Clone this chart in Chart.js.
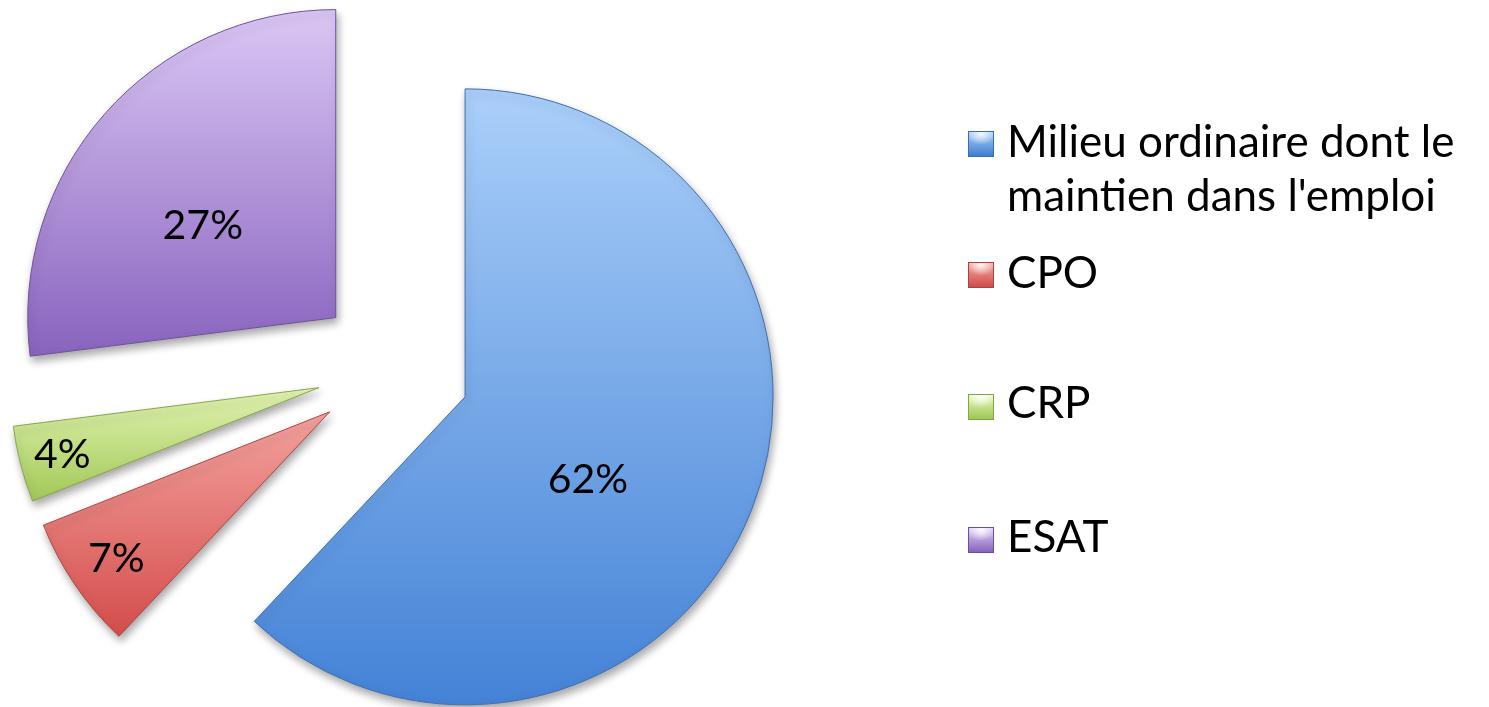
<!DOCTYPE html>
<html>
<head>
<meta charset="utf-8">
<script src="https://cdn.jsdelivr.net/npm/chart.js@4/dist/chart.umd.min.js"></script>
<style>
html,body{margin:0;padding:0;background:#fff;}
#wrap{position:relative;width:1489px;height:707px;overflow:hidden;}
#chartBox{position:absolute;left:0;top:0;width:1489px;height:707px;}
.lg{position:absolute;font-family:Lato,"Open Sans",sans-serif;font-size:44px;line-height:54px;color:#000;white-space:nowrap;}
.mk{position:absolute;width:26px;height:26px;box-sizing:border-box;}
</style>
</head>
<body>
<div id="wrap">
  <div id="chartBox"><canvas id="c"></canvas></div>
  <div id="legend"></div>
</div>
<script>
// ---- data ----
const categories = ["Milieu ordinaire dont le maintien dans l'emploi", "CPO", "CRP", "ESAT"];
const legendLines = [["Milieu ordinaire dont le", "maintien dans l'emploi"], ["CPO"], ["CRP"], ["ESAT"]];
const values = [62, 7, 4, 27];

// ---- styles ----
const topColors = ['#abd0fa', '#f3a29e', '#e2f4b2', '#dbc7f5'];
const bottomColors = ['#4482d6', '#d44d4b', '#a2c858', '#8963be'];
const borderColors = ['#3d6fb3', '#b24443', '#86a848', '#6f51a0'];
const markerBase = [['#a8cff9', '#3f7dd0', '#3a6db0'], ['#f4a6a2', '#d04b49', '#a94241'], ['#eaf8c2', '#9fc654', '#84a545'], ['#e0d0f6', '#8763bc', '#6b4f9c']];
const explodeDist = 77;
const pieRadius = 308;
const labelFrac = [0.478, 0.838, 0.86, 0.527];
const labelAngleShift = [11.8, 0, 0, -6.4];
const labelFontSize = 41;
const legendFontSize = 44;
const legendLineHeight = 54;
const legendBaselines = [[157, 211], [288], [418], [552]];
const markerTops = [131, 262, 394, 527];

const explodePlugin = {
  id: 'explode',
  afterDatasetUpdate(chart, args) {
    const meta = chart.getDatasetMeta(args.index);
    meta.data.forEach(arc => {
      const mid = (arc.startAngle + arc.endAngle) / 2;
      arc.x += Math.cos(mid) * explodeDist;
      arc.y += Math.sin(mid) * explodeDist;
    });
  },
  beforeDatasetsDraw(chart) {
    const ctx = chart.ctx;
    const meta = chart.getDatasetMeta(0);
    meta.data.forEach((arc, i) => {
      let minY = arc.y, maxY = arc.y;
      for (let k = 0; k <= 80; k++) {
        const a = arc.startAngle + (arc.endAngle - arc.startAngle) * k / 80;
        const yy = arc.y + Math.sin(a) * arc.outerRadius;
        minY = Math.min(minY, yy); maxY = Math.max(maxY, yy);
      }
      const g = ctx.createLinearGradient(0, minY, 0, maxY);
      g.addColorStop(0, topColors[i]);
      g.addColorStop(1, bottomColors[i]);
      if (Object.isFrozen(arc.options)) {
        arc.options = Object.assign({}, arc.options, {backgroundColor: g});
      } else {
        arc.options.backgroundColor = g;
      }
    });
    ctx.save();
    ctx.shadowColor = 'rgba(0,0,0,0.35)';
    ctx.shadowBlur = 9;
    ctx.shadowOffsetX = 2;
    ctx.shadowOffsetY = 5;
  },
  afterDatasetsDraw(chart) {
    const ctx = chart.ctx;
    ctx.restore();
    const meta = chart.getDatasetMeta(0);
    const total = values.reduce((a, b) => a + b, 0);
    ctx.save();
    ctx.font = labelFontSize + 'px Lato, "Open Sans", sans-serif';
    ctx.textAlign = 'center';
    ctx.textBaseline = 'alphabetic';
    ctx.fillStyle = '#000';
    meta.data.forEach((arc, i) => {
      const mid = (arc.startAngle + arc.endAngle) / 2 + labelAngleShift[i] * Math.PI / 180;
      const r = arc.outerRadius * labelFrac[i];
      const x = arc.x + Math.cos(mid) * r;
      const y = arc.y + Math.sin(mid) * r;
      const txt = Math.round(values[i] / total * 100) + '%';
      ctx.fillText(txt, x, y + 0.36 * labelFontSize);
    });
    ctx.restore();
  }
};

new Chart(document.getElementById('c'), {
  type: 'pie',
  data: {
    labels: categories,
    datasets: [{
      data: values,
      backgroundColor: (c) => topColors[c.dataIndex],
      borderColor: (c) => borderColors[c.dataIndex],
      borderWidth: 1,
      radius: pieRadius
    }]
  },
  options: {
    responsive: true,
    maintainAspectRatio: false,
    animation: false,
    events: [],
    layout: {padding: {left: 0, right: 702, top: 30, bottom: 0}},
    plugins: {legend: {display: false}, tooltip: {enabled: false}}
  },
  plugins: [explodePlugin]
});

// ---- HTML legend ----
const lg = document.getElementById('legend');
const baseOff = (legendLineHeight - legendFontSize * 1.2) / 2 + legendFontSize * 0.987;
categories.forEach((cat, i) => {
  const m = document.createElement('div');
  m.className = 'mk';
  const [lt, dk, bd] = markerBase[i];
  m.style.left = '968px';
  m.style.top = markerTops[i] + 'px';
  m.style.border = '1px solid ' + bd;
  m.style.background = 'radial-gradient(ellipse 60% 45% at 50% 8%, rgba(255,255,255,0.9), rgba(255,255,255,0) 100%), linear-gradient(' + lt + ', ' + dk + ')';
  lg.appendChild(m);
  legendLines[i].forEach((line, j) => {
    const t = document.createElement('div');
    t.className = 'lg';
    t.textContent = line;
    t.style.left = '1007px';
    t.style.top = (legendBaselines[i][j] - baseOff) + 'px';
    lg.appendChild(t);
  });
});
</script>
</body>
</html>
